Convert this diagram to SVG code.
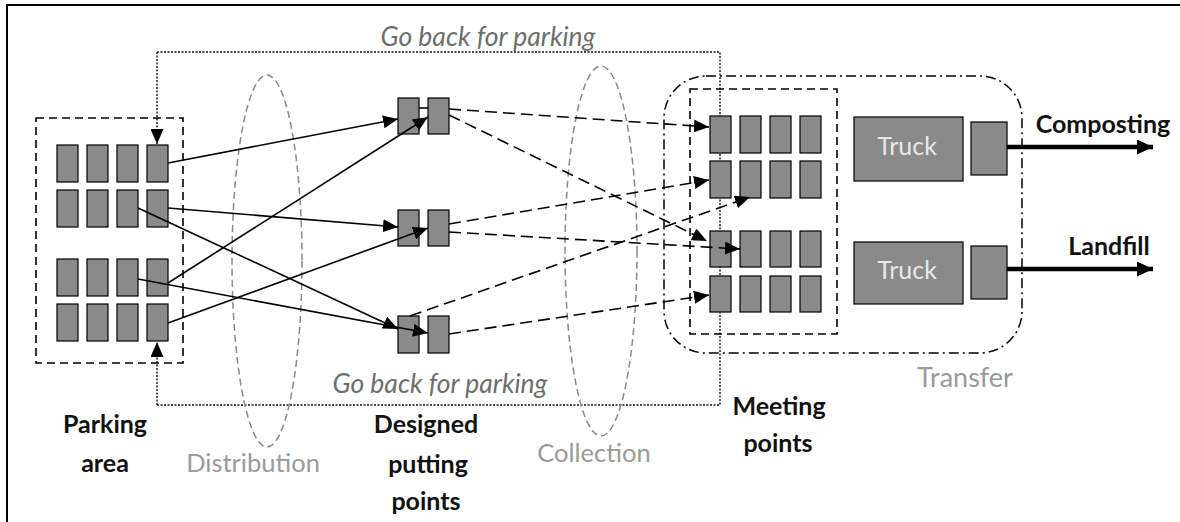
<svg xmlns="http://www.w3.org/2000/svg" width="1180" height="522" viewBox="0 0 1180 522">
<style>
.box{fill:#8a8a8a;stroke:#000;stroke-width:1.2}
.sol{fill:none;stroke:#000;stroke-width:1.6;marker-end:url(#ah)}
.dsh{fill:none;stroke:#000;stroke-width:1.6;stroke-dasharray:12 6;marker-end:url(#ah)}
.dot{fill:none;stroke:#111;stroke-width:1.4;stroke-dasharray:2 1.5}
.ell{fill:none;stroke:#8a8a8a;stroke-width:1.5;stroke-dasharray:7 4}
.grp{fill:none;stroke:#000;stroke-width:1.6;stroke-dasharray:8 5}
.lbl{font-family:Lato,"Open Sans",sans-serif;font-size:25px;font-weight:bold;fill:#111;text-anchor:middle}
.gl{font-family:Lato,"Open Sans",sans-serif;font-size:25.5px;fill:#9a9a9a;text-anchor:middle}
.it{font-family:Lato,"Open Sans",sans-serif;font-size:26.5px;font-style:italic;fill:#6e6e6e;text-anchor:middle}
.trk{font-family:Lato,"Open Sans",sans-serif;font-size:25px;fill:#e8e8e8;text-anchor:middle}
</style>
<defs>
<marker id="ah" markerUnits="userSpaceOnUse" markerWidth="15" markerHeight="13" refX="15" refY="6.5" orient="auto"><path d="M0,0 L15,6.5 L0,13 z" fill="#000"/></marker>
<marker id="bh" markerUnits="userSpaceOnUse" markerWidth="16" markerHeight="15" refX="16" refY="7.5" orient="auto"><path d="M0,0 L16,7.5 L0,15 z" fill="#000"/></marker>
</defs>
<rect x="7" y="5" width="1250" height="600" fill="none" stroke="#000" stroke-width="2"/>

<g id="go-back">
<path class="dot" d="M157,52 L720,52 L720,405 L157,405"/>
<path class="dot" d="M157,52 L157,144" style="marker-end:url(#ah)"/>
<path class="dot" d="M157,405 L157,342" style="marker-end:url(#ah)"/>
<text class="it" x="488" y="46">Go back for parking</text>
<text class="it" x="440" y="393">Go back for parking</text>
</g>

<g id="distribution">
<ellipse class="ell" cx="267" cy="261" rx="35" ry="186"/>
<text class="gl" x="253" y="472">Distribution</text>
</g>
<g id="collection">
<ellipse class="ell" cx="601" cy="251" rx="36" ry="185"/>
<text class="gl" x="594" y="462">Collection</text>
</g>

<g id="transfer">
<rect x="664" y="76" width="358" height="277" rx="42" fill="none" stroke="#000" stroke-width="1.5" stroke-dasharray="10 4 2 4"/>
<text class="gl" x="965" y="387" style="font-size:27px">Transfer</text>
</g>

<g id="parking-area">
<rect class="grp" x="36" y="118" width="147" height="245"/>
<rect class="box" x="57" y="145" width="21" height="37"/><rect class="box" x="87" y="145" width="21" height="37"/><rect class="box" x="117" y="145" width="21" height="37"/><rect class="box" x="147" y="145" width="21" height="37"/>
<rect class="box" x="57" y="190" width="21" height="37"/><rect class="box" x="87" y="190" width="21" height="37"/><rect class="box" x="117" y="190" width="21" height="37"/><rect class="box" x="147" y="190" width="21" height="37"/>
<rect class="box" x="57" y="259" width="21" height="37"/><rect class="box" x="87" y="259" width="21" height="37"/><rect class="box" x="117" y="259" width="21" height="37"/><rect class="box" x="147" y="259" width="21" height="37"/>
<rect class="box" x="57" y="304" width="21" height="37"/><rect class="box" x="87" y="304" width="21" height="37"/><rect class="box" x="117" y="304" width="21" height="37"/><rect class="box" x="147" y="304" width="21" height="37"/>
<text class="lbl" x="105" y="433">Parking</text>
<text class="lbl" x="105" y="472">area</text>
</g>

<g id="putting-points">
<rect class="box" x="398" y="98" width="21" height="36"/><rect class="box" x="428" y="98" width="21" height="36"/>
<rect class="box" x="398" y="210" width="21" height="36"/><rect class="box" x="428" y="210" width="21" height="36"/>
<rect class="box" x="398" y="316" width="21" height="37"/><rect class="box" x="428" y="316" width="21" height="37"/>
<text class="lbl" x="426" y="433">Designed</text>
<text class="lbl" x="428" y="473">putting</text>
<text class="lbl" x="426" y="510">points</text>
</g>

<g id="meeting-points">
<rect class="grp" x="690" y="89" width="147" height="245"/>
<rect class="box" x="710" y="116" width="21" height="37"/><rect class="box" x="740" y="116" width="21" height="37"/><rect class="box" x="770" y="116" width="21" height="37"/><rect class="box" x="800" y="116" width="21" height="37"/>
<rect class="box" x="710" y="161" width="21" height="37"/><rect class="box" x="740" y="161" width="21" height="37"/><rect class="box" x="770" y="161" width="21" height="37"/><rect class="box" x="800" y="161" width="21" height="37"/>
<rect class="box" x="710" y="231" width="21" height="36"/><rect class="box" x="740" y="231" width="21" height="36"/><rect class="box" x="770" y="231" width="21" height="36"/><rect class="box" x="800" y="231" width="21" height="36"/>
<rect class="box" x="710" y="276" width="21" height="36"/><rect class="box" x="740" y="276" width="21" height="36"/><rect class="box" x="770" y="276" width="21" height="36"/><rect class="box" x="800" y="276" width="21" height="36"/>
<text class="lbl" x="779" y="415">Meeting</text>
<text class="lbl" x="778" y="452">points</text>
</g>

<g id="truck-1">
<rect class="box" x="854" y="117" width="109" height="64"/>
<text class="trk" x="907" y="155">Truck</text>
<rect class="box" x="971" y="122" width="36" height="53"/>
</g>
<g id="truck-2">
<rect class="box" x="854" y="242" width="109" height="62"/>
<text class="trk" x="907" y="279">Truck</text>
<rect class="box" x="971" y="246" width="36" height="53"/>
</g>

<g id="composting"><text class="lbl" x="1103" y="133">Composting</text></g>
<g id="landfill"><text class="lbl" x="1109" y="255">Landfill</text></g>

<g id="connectors">
<path class="sol" d="M168,163 L398,119"/>
<path class="sol" d="M168,208 L398,227"/>
<path class="sol" d="M138,208 L398,329"/>
<path class="sol" d="M138,279 L428,333"/>
<path class="sol" d="M168,283 L428,117"/>
<path class="sol" d="M168,323 L428,228"/>
<path d="M419,108 L428,108" stroke="#000" stroke-width="1.6"/>
<path class="dsh" d="M449,109 L709,127"/>
<path class="dsh" d="M449,115 L707,241"/>
<path class="dsh" d="M449,224 L709,180"/>
<path class="dsh" d="M449,232 L740,249"/>
<path class="dsh" d="M410,316 L750,197"/>
<path class="dsh" d="M449,334 L709,295"/>
<path d="M1007,147 L1153,147" stroke="#000" stroke-width="4.5" fill="none" marker-end="url(#bh)"/>
<path d="M1007,269 L1153,269" stroke="#000" stroke-width="4.5" fill="none" marker-end="url(#bh)"/>
</g>
</svg>
